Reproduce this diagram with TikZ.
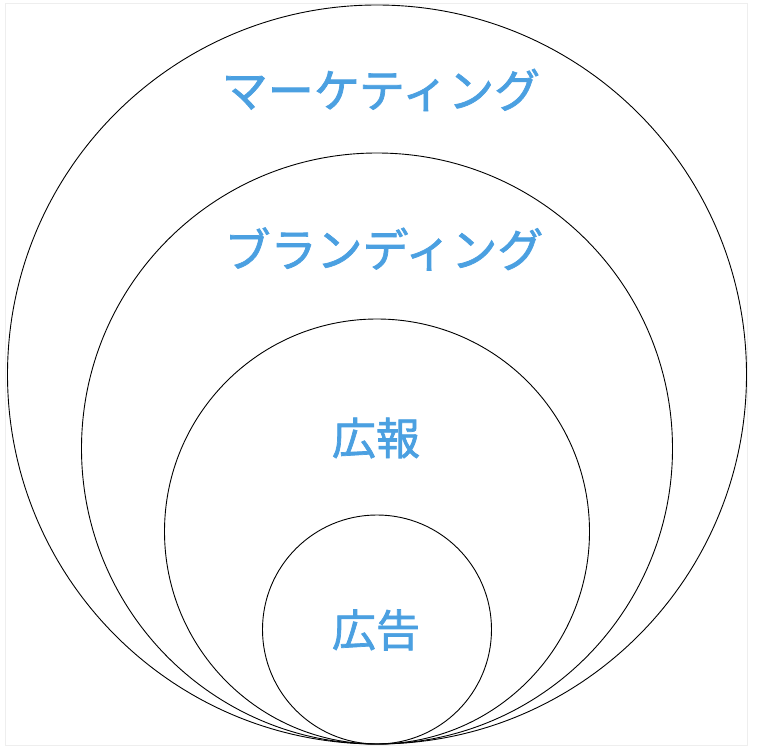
\documentclass[tikz,border=0pt]{standalone}
\usepackage{fontspec}
\newfontfamily\jpfont[FakeBold=1.6]{Noto Sans CJK JP}
\definecolor{lblue}{HTML}{4BA0E1}
\definecolor{frame}{HTML}{EEEEEE}
\begin{document}
\begin{tikzpicture}[x=1pt,y=-1pt,
  ring/.style={circle,draw=black,line width=0.9pt,inner sep=0pt,outer sep=0pt},
  lbl/.style={text=lblue,font=\jpfont\fontsize{44}{52}\selectfont,inner sep=0pt,anchor=center},
  klbl/.style={lbl,font=\jpfont\fontsize{46}{54}\selectfont}]
\useasboundingbox (0,0) rectangle (760,754);
\draw[frame,line width=1pt] (5.5,4) rectangle (747.5,745);
\node[ring,minimum size=739pt] (c1) at (377,374.5) {};
\node[ring,minimum size=591pt] (c2) at (377,448.5) {};
\node[ring,minimum size=425pt] (c3) at (377,531.5) {};
\node[ring,minimum size=229pt] (c4) at (377,629.5) {};
\node[klbl] (t1) at (381,90) {マーケティング};
\node[klbl] (t2) at (384,249) {ブランディング};
\node[lbl] (t3) at (376,438) {広報};
\node[lbl] (t4) at (376,630) {広告};
\end{tikzpicture}
\end{document}
